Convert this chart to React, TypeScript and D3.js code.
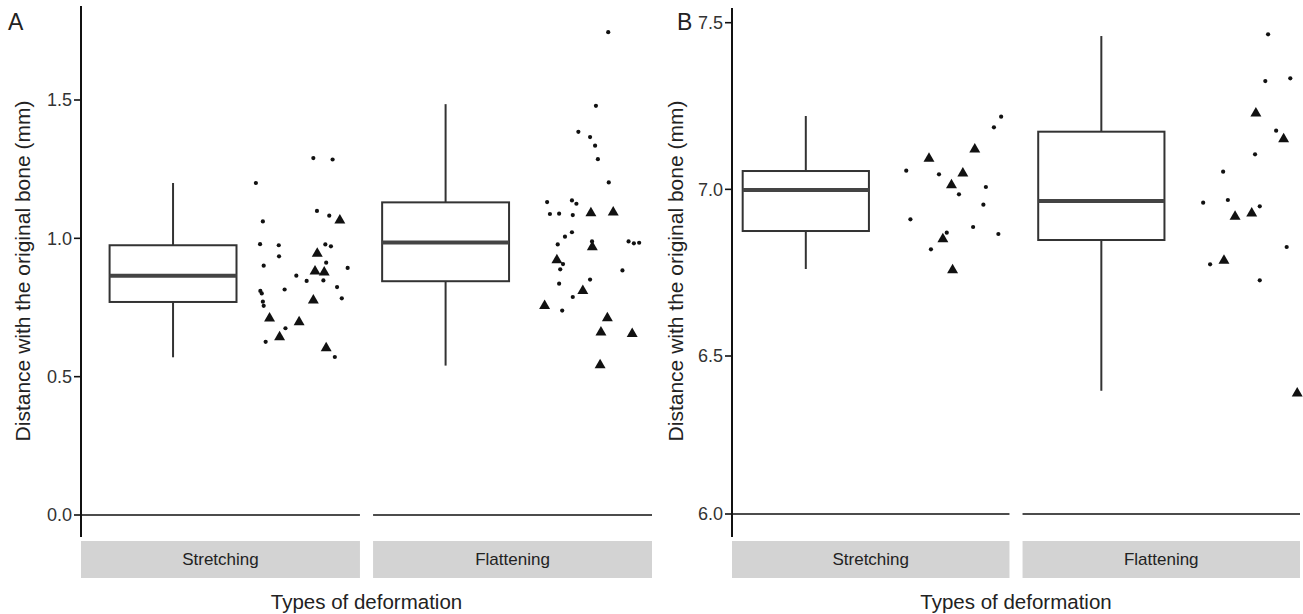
import * as d3 from 'd3';

const groups = ['Stretching', 'Flattening'];
const ticksA = [0.0, 0.5, 1.0, 1.5];
const ticksB = [6.0, 6.5, 7.0, 7.5];

// [lower whisker, Q1, median, Q3, upper whisker]
const boxesA = [
  [0.57, 0.77, 0.865, 0.975, 1.2],
  [0.54, 0.845, 0.985, 1.13, 1.485],
];
const boxesB = [
  [6.761, 6.875, 6.998, 7.055, 7.22],
  [6.39, 6.848, 6.965, 7.173, 7.46],
];

// [position within group (0-1), distance, shape: 0 dot / 1 triangle]
const ptsAStretching = [
  [0.833, 1.29, 0], [0.902, 1.285, 0], [0.627, 1.2, 0], [0.846, 1.099, 0], [0.89, 1.082, 0],
  [0.928, 1.065, 1], [0.652, 1.061, 0], [0.642, 0.979, 0], [0.709, 0.975, 0], [0.876, 0.978, 0],
  [0.896, 0.971, 0], [0.847, 0.945, 1], [0.71, 0.935, 0], [0.879, 0.912, 0], [0.655, 0.901, 0],
  [0.956, 0.893, 0], [0.839, 0.881, 1], [0.872, 0.877, 1], [0.772, 0.865, 0], [0.809, 0.846, 0],
  [0.869, 0.848, 0], [0.918, 0.824, 0], [0.643, 0.81, 0], [0.648, 0.801, 0], [0.73, 0.815, 0],
  [0.935, 0.783, 0], [0.833, 0.776, 1], [0.652, 0.771, 0], [0.655, 0.756, 0], [0.676, 0.711, 1],
  [0.782, 0.697, 1], [0.733, 0.675, 0], [0.712, 0.643, 1], [0.662, 0.626, 0], [0.879, 0.603, 1],
  [0.91, 0.571, 0],
];
const ptsAFlattening = [
  [0.843, 1.745, 0], [0.799, 1.479, 0], [0.736, 1.385, 0], [0.778, 1.366, 0], [0.796, 1.335, 0],
  [0.806, 1.286, 0], [0.845, 1.202, 0], [0.624, 1.131, 0], [0.713, 1.137, 0], [0.729, 1.125, 0],
  [0.634, 1.088, 0], [0.667, 1.089, 0], [0.716, 1.084, 0], [0.781, 1.091, 1], [0.861, 1.094, 1],
  [0.713, 1.022, 0], [0.688, 1.006, 0], [0.662, 0.978, 0], [0.785, 0.989, 0], [0.786, 0.968, 1],
  [0.916, 0.989, 0], [0.935, 0.982, 0], [0.954, 0.984, 0], [0.659, 0.921, 1], [0.681, 0.907, 0],
  [0.671, 0.888, 0], [0.894, 0.884, 0], [0.778, 0.851, 0], [0.667, 0.836, 0], [0.752, 0.81, 1],
  [0.716, 0.788, 0], [0.615, 0.756, 1], [0.678, 0.739, 0], [0.84, 0.712, 1], [0.817, 0.66, 1],
  [0.929, 0.655, 1], [0.814, 0.542, 1],
];
const ptsBStretching = [
  [0.97, 7.218, 0], [0.944, 7.186, 0], [0.875, 7.12, 1], [0.71, 7.092, 1], [0.628, 7.056, 0],
  [0.746, 7.045, 0], [0.832, 7.048, 1], [0.791, 7.013, 1], [0.915, 7.007, 0], [0.818, 6.985, 0],
  [0.906, 6.954, 0], [0.643, 6.91, 0], [0.869, 6.887, 0], [0.774, 6.87, 0], [0.76, 6.851, 1],
  [0.96, 6.866, 0], [0.717, 6.82, 0], [0.795, 6.758, 1],
];
const ptsBFlattening = [
  [0.885, 7.465, 0], [0.875, 7.325, 0], [0.965, 7.333, 0], [0.841, 7.228, 1], [0.914, 7.176, 0],
  [0.941, 7.151, 1], [0.838, 7.105, 0], [0.723, 7.053, 0], [0.651, 6.96, 0], [0.74, 6.968, 0],
  [0.855, 6.949, 0], [0.766, 6.918, 1], [0.826, 6.928, 1], [0.952, 6.827, 0], [0.726, 6.786, 1],
  [0.676, 6.775, 0], [0.855, 6.727, 0], [0.99, 6.382, 1],
];

const FONT = '"Liberation Sans", Arial, sans-serif';
const tri = d3.symbol().type(d3.symbolTriangle).size(52)();

type PanelProps = {
  letter: string;
  letterX: number;
  titleX: number;
  ticks: number[];
  y: d3.ScaleLinear<number, number>;
  xRange: [number, number];
  axisTop: number;
  boxes: number[][];
  boxPos: number[];
  points: number[][][];
};

function Panel({ letter, letterX, titleX, ticks, y, xRange, axisTop, boxes, boxPos, points }: PanelProps) {
  const x = d3.scaleBand().domain(groups).range(xRange).paddingInner(0.045);
  const bw = x.bandwidth();
  const axisX = xRange[0];
  const base = y(ticks[0]);
  const stripTop = 541;
  const stripBottom = 578;
  const boxW = bw * 0.455;
  const fmt = d3.format('.1f');
  return (
    <g>
      <text x={letterX} y={30} fontSize={23} fontFamily={FONT} fill="#222">{letter}</text>
      <text
        transform={`translate(${titleX},${271}) rotate(-90)`}
        textAnchor="middle"
        fontSize={21}
        fontFamily={FONT}
        fill="#222"
      >
        Distance with the original bone (mm)
      </text>
      {groups.map((g, i) => {
        const x0 = x(g)!;
        const b = boxes[i];
        const cx = x0 + bw * boxPos[i];
        return (
          <g key={g}>
            <line x1={x0} x2={x0 + bw} y1={base} y2={base} stroke="#111" strokeWidth={1.6} />
            <rect x={x0} y={stripTop} width={bw} height={stripBottom - stripTop} fill="#d3d3d3" />
            <text
              x={x0 + bw / 2}
              y={(stripTop + stripBottom) / 2}
              dy="0.35em"
              textAnchor="middle"
              fontSize={17}
              fontFamily={FONT}
              fill="#222"
            >
              {g}
            </text>
            <line x1={cx} x2={cx} y1={y(b[4])} y2={y(b[3])} stroke="#333" strokeWidth={2} />
            <line x1={cx} x2={cx} y1={y(b[1])} y2={y(b[0])} stroke="#333" strokeWidth={2} />
            <rect
              x={cx - boxW / 2}
              y={y(b[3])}
              width={boxW}
              height={y(b[1]) - y(b[3])}
              fill="white"
              stroke="#333"
              strokeWidth={2}
            />
            <line x1={cx - boxW / 2} x2={cx + boxW / 2} y1={y(b[2])} y2={y(b[2])} stroke="#444" strokeWidth={4} />
            {points[i].map((p, k) =>
              p[2] === 1 ? (
                <path key={k} d={tri} transform={`translate(${x0 + bw * p[0]},${y(p[1])})`} fill="#111" />
              ) : (
                <circle key={k} cx={x0 + bw * p[0]} cy={y(p[1])} r={2.1} fill="#111" />
              )
            )}
          </g>
        );
      })}
      <line x1={axisX} x2={axisX} y1={axisTop} y2={537} stroke="#111" strokeWidth={2} />
      {ticks.map((t) => (
        <g key={t}>
          <line x1={axisX - 7} x2={axisX} y1={y(t)} y2={y(t)} stroke="#111" strokeWidth={1.6} />
          <text
            x={axisX - 9}
            y={y(t)}
            dy="0.35em"
            textAnchor="end"
            fontSize={18}
            fontFamily={FONT}
            fill="#333"
          >
            {fmt(t)}
          </text>
        </g>
      ))}
      <text
        x={(xRange[0] + xRange[1]) / 2}
        y={602}
        dy="0.35em"
        textAnchor="middle"
        fontSize={20.5}
        fontFamily={FONT}
        fill="#222"
      >
        Types of deformation
      </text>
    </g>
  );
}

export default function App() {
  const yA = d3.scaleLinear().domain([0, 1.5]).range([515, 100]);
  const yB = d3.scaleLinear().domain([6.0, 6.5, 7.5]).range([514, 356, 22.7]);
  return (
    <svg
      width={1303}
      height={614}
      style={{ position: 'absolute', left: 0, top: 0, background: 'white' }}
    >
      <Panel
        letter="A"
        letterX={8}
        titleX={30}
        ticks={ticksA}
        y={yA}
        xRange={[81, 652]}
        axisTop={6}
        boxes={boxesA}
        boxPos={[0.33, 0.26]}
        points={[ptsAStretching, ptsAFlattening]}
      />
      <Panel
        letter="B"
        letterX={677}
        titleX={683}
        ticks={ticksB}
        y={yB}
        xRange={[732, 1300]}
        axisTop={8}
        boxes={boxesB}
        boxPos={[0.266, 0.284]}
        points={[ptsBStretching, ptsBFlattening]}
      />
    </svg>
  );
}
